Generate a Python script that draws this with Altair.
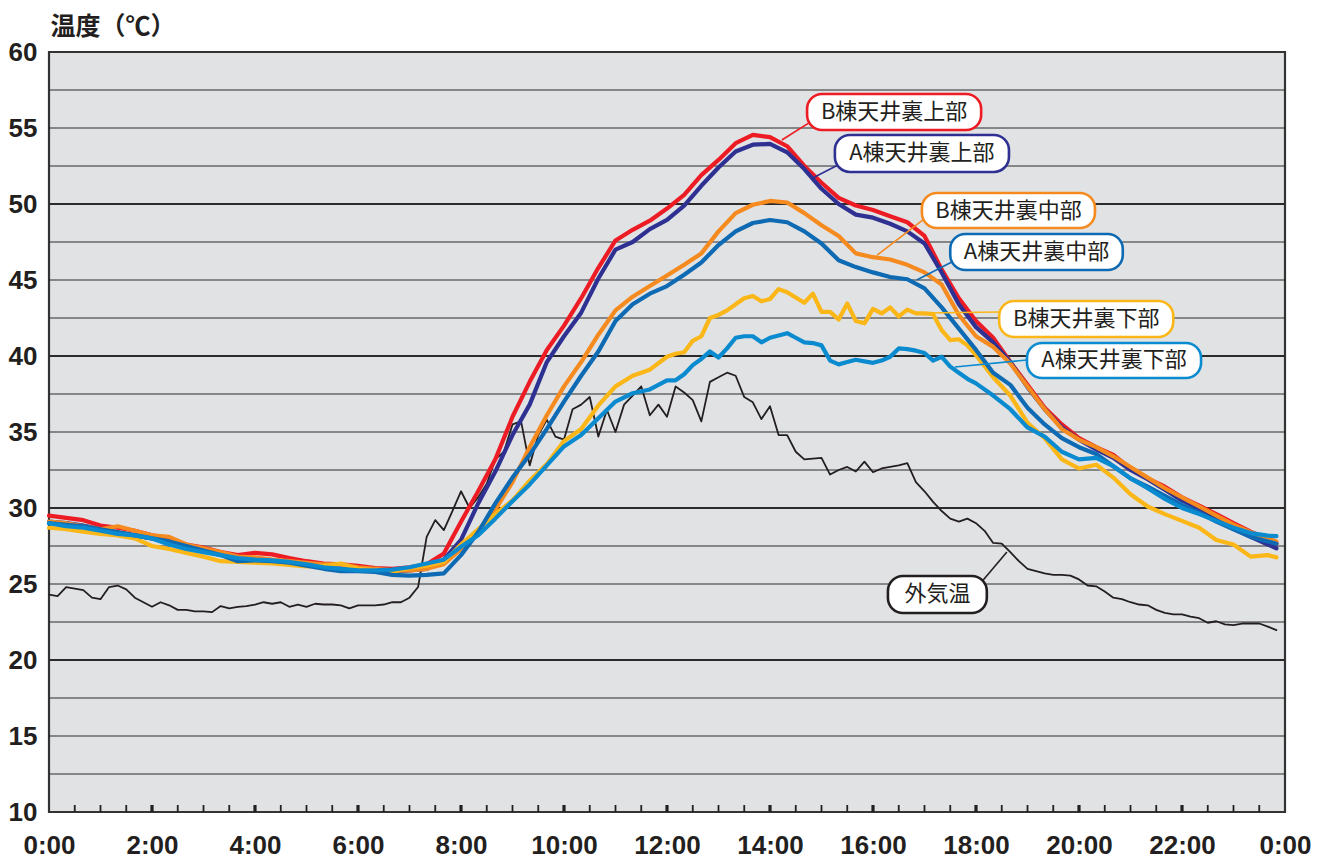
import altair as alt
import pandas as pd

# ---------------- data ----------------
def hm(m):
    return m / 60.0

grid10 = list(range(0, 1440, 10))
grid20 = list(range(0, 1440, 20)) + [1430]
grid_lower = list(range(0, 720, 20)) + list(range(720, 1080, 10)) + list(range(1080, 1440, 20)) + [1430]

outdoor = [
    24.3, 24.2, 24.8, 24.7, 24.6, 24.1,
    24.0, 24.8, 24.9, 24.65, 24.1, 23.8,
    23.5, 23.8, 23.6, 23.3, 23.3, 23.2,
    23.2, 23.15, 23.55, 23.4, 23.5, 23.55,
    23.65, 23.8, 23.7, 23.8, 23.5, 23.65,
    23.5, 23.7, 23.65, 23.65, 23.6, 23.4,
    23.6, 23.6, 23.6, 23.65, 23.8, 23.8,
    24.1, 24.8, 28.1, 29.2, 28.55, 29.8,
    31.1, 30.0, 30.7, 31.6, 33.2, 33.7,
    35.5, 35.7, 32.8, 34.8, 35.8, 34.7,
    34.5, 36.5, 36.8, 37.3, 34.7, 36.45,
    35.0, 36.8, 37.4, 38.0, 36.1, 36.8,
    36.0, 38.0, 37.6, 37.1, 35.7, 38.3,
    38.6, 38.9, 38.7, 37.3, 36.95, 35.85,
    36.7, 34.8, 34.8, 33.7, 33.2, 33.25,
    33.3, 32.2, 32.5, 32.7, 32.4, 33.05,
    32.35, 32.6, 32.7, 32.8, 32.95, 31.7,
    31.1, 30.4, 29.8, 29.3, 29.1, 29.3,
    29.0, 28.5, 27.7, 27.65, 27.1, 26.5,
    26.0, 25.85, 25.7, 25.6, 25.6, 25.55,
    25.3, 24.9, 24.85, 24.5, 24.1, 24.0,
    23.8, 23.65, 23.6, 23.3, 23.1, 23.0,
    23.0, 22.85, 22.75, 22.45, 22.55, 22.35,
    22.3, 22.4, 22.4, 22.4, 22.2, 21.97,
]

b_top = [
    29.5, 29.35, 29.2, 28.85, 28.7, 28.5, 28.2, 28.0, 27.6, 27.4, 27.1, 26.9,
    27.05, 26.95, 26.7, 26.5, 26.35, 26.3, 26.2, 26.05, 26.0, 26.1, 26.3, 27.0,
    29.1, 31.1, 33.2, 36.0, 38.3, 40.4, 42.0, 43.8, 45.8, 47.6, 48.3, 48.9,
    49.7, 50.6, 51.9, 52.9, 54.0, 54.55, 54.4, 53.8, 52.5, 51.4, 50.4, 49.9,
    49.6, 49.2, 48.8, 47.9, 45.7, 43.8,
    42.3, 41.2, 39.6, 38.1, 36.6, 35.5, 34.6, 34.0, 33.5, 32.6, 31.95, 31.4,
    30.7, 30.15, 29.6, 29.0, 28.45, 27.95, 27.65,
]

a_top = [
    29.1, 29.0, 28.85, 28.6, 28.4, 28.2, 28.0, 27.75, 27.4, 27.2, 26.95, 26.7,
    26.6, 26.55, 26.45, 26.3, 26.1, 26.0, 25.9, 25.85, 25.85, 25.9, 26.0, 26.6,
    27.9, 30.3, 32.4, 34.8, 36.8, 39.6, 41.3, 42.85, 45.1, 47.0, 47.5, 48.35,
    48.95, 49.9, 51.2, 52.4, 53.45, 53.9, 53.95, 53.4, 52.3, 51.0, 50.0, 49.3,
    49.1, 48.7, 48.2, 47.4, 45.5, 43.4,
    41.9, 40.9, 39.6, 37.95, 36.5, 35.3, 34.5, 33.85, 33.3, 32.5, 31.9, 31.2,
    30.5, 29.95, 29.3, 28.65, 28.1, 27.6, 27.35,
]

b_mid = [
    29.1, 29.0, 28.8, 28.6, 28.8, 28.5, 28.2, 28.1, 27.6, 27.35, 27.1, 26.8,
    26.75, 26.6, 26.5, 26.4, 26.3, 26.3, 26.1, 26.0, 25.9, 25.9, 26.0, 26.3,
    27.3, 28.5, 29.9, 31.7, 34.0, 36.1, 38.0, 39.6, 41.4, 43.0, 43.9, 44.6,
    45.3, 46.0, 46.75, 48.2, 49.4, 49.95, 50.2, 50.1, 49.4, 48.6, 47.9, 46.75,
    46.5, 46.35, 46.0, 45.5, 44.7, 42.7,
    41.3, 40.6, 39.5, 38.0, 36.5, 35.2, 34.5, 34.0, 33.4, 32.7, 32.0, 31.3,
    30.7, 30.1, 29.5, 28.9, 28.4, 28.0, 27.8,
]

a_mid = [
    29.0, 28.9, 28.8, 28.6, 28.4, 28.2, 28.0, 27.8, 27.5, 27.2, 26.9, 26.5,
    26.55, 26.5, 26.4, 26.2, 26.0, 25.85, 25.85, 25.8, 25.6, 25.55, 25.6, 25.7,
    26.9, 28.4, 30.3, 32.0, 33.5, 35.2, 37.0, 38.7, 40.3, 42.3, 43.4, 44.1,
    44.6, 45.35, 46.15, 47.3, 48.2, 48.75, 48.95, 48.8, 48.2, 47.4, 46.3, 45.85,
    45.5, 45.2, 45.05, 44.45, 43.2, 41.8,
    40.4, 38.9, 38.1, 36.6, 35.5, 34.6, 34.0, 33.55, 32.75, 31.95, 31.4, 30.8,
    30.2, 29.7, 29.1, 28.6, 28.1, 27.8, 27.65,
]

b_low = [
    28.7, 28.6, 28.45, 28.3, 28.2, 28.0, 27.5, 27.3, 27.05, 26.8, 26.5, 26.45,
    26.4, 26.35, 26.25, 26.15, 26.2, 26.35, 26.0, 25.9, 25.8, 26.05, 26.2, 26.45,
    27.6, 28.6, 29.6, 30.5, 31.8, 32.9, 34.4, 35.2, 36.75, 38.0, 38.7, 39.1,
    39.95, 40.15, 40.25, 41.0, 41.3, 42.5,
    42.7, 43.0, 43.4, 43.8, 43.95, 43.6,
    43.75, 44.4, 44.2, 43.85, 43.5, 44.1,
    42.9, 42.9, 42.4, 43.45, 42.3, 42.15,
    43.1, 42.8, 43.2, 42.6, 43.05, 42.8,
    42.8, 42.75, 41.7, 41.05, 41.1, 40.7,
    40.05, 38.6, 37.4, 35.6, 34.6, 33.2, 32.6, 32.85, 32.0, 30.9, 30.1, 29.6,
    29.15, 28.7, 27.9, 27.6, 26.8, 26.9, 26.75,
]

a_low = [
    29.0, 28.8, 28.7, 28.5, 28.3, 28.2, 28.0, 27.6, 27.3, 27.1, 26.9, 26.7,
    26.6, 26.55, 26.45, 26.3, 26.1, 26.0, 25.9, 25.9, 25.95, 26.1, 26.35, 26.6,
    27.45, 28.2, 29.3, 30.45, 31.55, 32.8, 34.05, 34.8, 35.9, 37.0, 37.55, 37.8,
    38.4, 38.4, 38.8, 39.4, 39.8, 40.3,
    39.9, 40.5, 41.2, 41.3, 41.3, 40.9,
    41.2, 41.35, 41.5, 41.2, 40.9, 40.85,
    40.7, 39.7, 39.45, 39.6, 39.75, 39.65,
    39.55, 39.7, 39.95, 40.5, 40.45, 40.35,
    40.2, 39.7, 39.95, 39.3, 38.9, 38.5,
    38.2, 37.4, 36.5, 35.3, 34.7, 33.7, 33.2, 33.3, 32.75, 31.95, 31.3, 30.6,
    30.0, 29.6, 29.15, 28.7, 28.35, 28.18, 28.15,
]

series_names = ["外気温", "B棟天井裏上部", "A棟天井裏上部", "B棟天井裏中部",
                "B棟天井裏下部", "A棟天井裏中部", "A棟天井裏下部"]
series_times = [grid10, grid20, grid20, grid20, grid_lower, grid20, grid_lower]
series_values = [outdoor, b_top, a_top, b_mid, b_low, a_mid, a_low]
series_colors = ["#231f20", "#ed1c24", "#2e3192", "#f58a1f", "#fbb617", "#0d6ab3", "#0a8bd0"]
series_widths = [1.8, 4.2, 4.2, 4.2, 4.2, 4.2, 4.2]

x_tick_hours = list(range(0, 25, 2))
x_tick_labels = ["0:00", "2:00", "4:00", "6:00", "8:00", "10:00", "12:00",
                 "14:00", "16:00", "18:00", "20:00", "22:00", "0:00"]
y_tick_values = list(range(10, 61, 5))
grid_major = [20, 30, 40, 50]
grid_minor = [12.5, 15, 17.5, 22.5, 25, 27.5, 32.5, 35, 37.5, 42.5, 45, 47.5, 52.5, 55, 57.5]
ticks_major = [2, 4, 6, 8, 10, 12, 14, 16, 18, 20, 22]
ticks_minor = [h / 2 for h in range(1, 48) if h % 4 != 0]

# callout layout (data units: hours, °C)
callouts = pd.DataFrame({
    "label": ["B棟天井裏上部", "A棟天井裏上部", "B棟天井裏中部", "A棟天井裏中部",
              "B棟天井裏下部", "A棟天井裏下部", "外気温"],
    "col": ["#ed1c24", "#2e3192", "#f58a1f", "#0d6ab3", "#fbb617", "#0a8bd0", "#231f20"],
    "bx0": [14.72, 15.26, 16.95, 17.50, 18.45, 18.99, 16.29],
    "bx1": [18.10, 18.64, 20.31, 20.85, 21.83, 22.37, 18.21],
    "by0": [54.87, 52.11, 48.42, 45.66, 41.25, 38.55, 23.09],
    "by1": [57.24, 54.54, 50.72, 48.03, 43.62, 40.86, 25.53],
    "lx0": [14.78, 15.32, 16.97, 17.53, 18.45, 18.99, 18.14],
    "ly0": [55.39, 52.57, 48.95, 46.18, 42.89, 39.74, 25.26],
    "lx1": [14.23, 14.83, 16.08, 16.85, 16.97, 17.59, 18.60],
    "ly1": [54.21, 51.71, 46.64, 45.00, 42.83, 39.28, 27.11],
})
callouts["cx"] = (callouts["bx0"] + callouts["bx1"]) / 2
callouts["cy"] = (callouts["by0"] + callouts["by1"]) / 2

# ---------------- chart ----------------
NUM_FONT = '"Liberation Sans Narrow", "Arial Narrow", "Liberation Sans", sans-serif'
JP_FONT = '"Noto Sans CJK JP", sans-serif'
xscale = alt.Scale(domain=[0, 24], nice=False, zero=False)
yscale = alt.Scale(domain=[10, 60], nice=False, zero=False)

label_expr = "[" + ",".join("'" + s + "'" for s in x_tick_labels) + "][round(datum.value/2)]"

x_axis = alt.Axis(values=x_tick_hours, labelExpr=label_expr, title=None, grid=False,
                  ticks=False, domain=False, labelFont=NUM_FONT, labelFontSize=26,
                  labelFontWeight="bold", labelColor="#231f20", labelPadding=20,
                  labelFlush=False)
y_axis = alt.Axis(values=y_tick_values, title="温度（℃）", titleAngle=0, titleX=1, titleY=-38,
                  titleAlign="left", titleBaseline="top", titleFont=JP_FONT,
                  titleFontSize=25, titleFontWeight="bold", titleColor="#231f20",
                  grid=False, ticks=False, domain=False, labelFont=NUM_FONT,
                  labelFontSize=26, labelFontWeight="bold", labelColor="#231f20",
                  labelPadding=12)


def X(field):
    return alt.X(field, scale=xscale, axis=x_axis, title=None)


def Y(field):
    return alt.Y(field, scale=yscale, axis=y_axis, title="温度（℃）")


grid_df = pd.DataFrame({"temp": grid_major + grid_minor,
                        "w": [2.2] * len(grid_major) + [1.2] * len(grid_minor)})
grid_layer = alt.Chart(grid_df).mark_rule(color="#2b2b2b").encode(
    y=Y("temp:Q"),
    strokeWidth=alt.StrokeWidth("w:Q", scale=None),
)

tick_df = pd.DataFrame({"hour": ticks_major + ticks_minor,
                        "w": [3.2] * len(ticks_major) + [1.8] * len(ticks_minor)})
tick_layer = alt.Chart(tick_df).mark_rule(color="#231f20").encode(
    x=X("hour:Q"),
    y=alt.value(753), y2=alt.value(760),
    strokeWidth=alt.StrokeWidth("w:Q", scale=None),
)

line_layers = []
for name, times, vals, col, w in zip(series_names, series_times, series_values,
                                     series_colors, series_widths):
    df = pd.DataFrame({"hour": [hm(m) for m in times], "temp": vals, "series": name})
    layer = alt.Chart(df).mark_line(color=col, strokeWidth=w, strokeJoin="round",
                                    strokeCap="round").encode(
        x=X("hour:Q"),
        y=Y("temp:Q"),
    )
    line_layers.append(layer)

leader_layer = alt.Chart(callouts).mark_rule(strokeWidth=1.6).encode(
    x=X("lx0:Q"), x2="lx1:Q",
    y=Y("ly0:Q"), y2="ly1:Q",
    color=alt.Color("col:N", scale=None),
)
box_layer = alt.Chart(callouts).mark_rect(fill="white", strokeWidth=2.6, cornerRadius=15).encode(
    x=X("bx0:Q"), x2="bx1:Q",
    y=Y("by0:Q"), y2="by1:Q",
    stroke=alt.Stroke("col:N", scale=None),
)
text_layer = alt.Chart(callouts).mark_text(font=JP_FONT, fontSize=22, color="#231f20",
                                           align="center", baseline="middle").encode(
    x=X("cx:Q"),
    y=Y("cy:Q"),
    text="label:N",
)

chart = alt.layer(grid_layer, tick_layer, *line_layers, leader_layer, box_layer, text_layer).properties(
    width=1236, height=760,
    autosize=alt.AutoSizeParams(type="none"),
    padding={"left": 41, "top": 44, "right": 27, "bottom": 48},
    background="white",
).configure_view(fill="#e1e2e4", stroke="#333333", strokeWidth=2.2)

chart.save("out.html", embed_options={"renderer": "svg", "actions": False})
